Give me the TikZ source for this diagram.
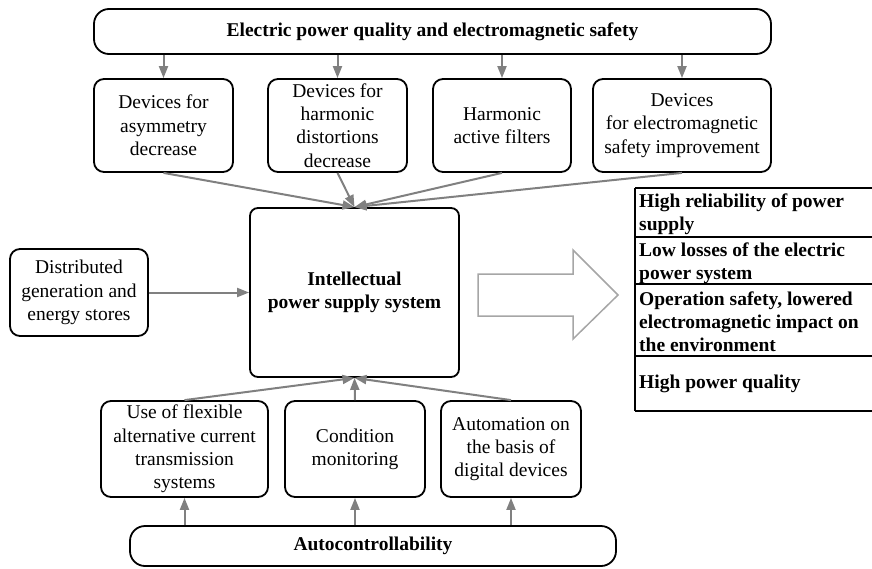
\documentclass[tikz,border=0pt]{standalone}
\usepackage{fontspec}
\setmainfont{Liberation Serif}
\usetikzlibrary{arrows.meta}
\begin{document}
\begin{tikzpicture}[x=1pt,y=-1pt,
  every node/.style={font=\fontsize{19.5}{23.3}\selectfont},
  box/.style={draw=black,line width=1.8pt,rounded corners=10pt,align=center,inner sep=0pt},
  bigbox/.style={box,rounded corners=15pt},
  arr/.style={draw=gray,line width=2pt,-{Triangle[length=12pt,width=9pt]}},
  rowtext/.style={anchor=west,align=left,inner sep=0pt,font=\fontsize{19.5}{23}\selectfont\bfseries},
  panel/.style={line width=1.8pt,draw=black}]
\useasboundingbox (0,0) rectangle (872,568);
% top and bottom
\node[bigbox,minimum width=677pt,minimum height=45pt] (top) at (432.5,31.5) {\textbf{Electric power quality and electromagnetic safety}};
\node[bigbox,minimum width=486pt,minimum height=40pt] (bot) at (373,546) {\textbf{Autocontrollability}};
% second row
\node[box,minimum width=139pt,minimum height=93pt] (b1) at (163.5,125.5) {Devices for\\asymmetry\\decrease};
\node[box,minimum width=139pt,minimum height=93pt] (b2) at (337.5,125.5) {Devices for\\harmonic\\distortions\\decrease};
\node[box,minimum width=138pt,minimum height=93pt] (b3) at (502,125.5) {Harmonic\\active filters};
\node[box,minimum width=178pt,minimum height=93pt] (b4) at (682,125.5) {Devices\\for electromagnetic\\safety improvement};
% centre
\node[box,rounded corners=8pt,minimum width=209pt,minimum height=169pt] (cen) at (354.5,292.5) {\textbf{Intellectual}\\\textbf{power supply system}};
\node[box,minimum width=138pt,minimum height=87pt] (dist) at (79,292.5) {Distributed\\generation and\\energy stores};
% lower row
\node[box,minimum width=167pt,minimum height=96pt] (u1) at (184.5,449) {Use of flexible\\alternative current\\transmission\\systems};
\node[box,minimum width=140pt,minimum height=96pt] (u2) at (355,449) {Condition\\monitoring};
\node[box,minimum width=140pt,minimum height=96pt] (u3) at (511,449) {Automation on\\the basis of\\digital devices};
% arrows top
\foreach \b in {b1,b2,b3,b4} {
  \draw[arr] (top.south -| \b.north) -- (\b.north);
  \draw[arr] (\b.south) -- (cen.north);
}
\draw[arr] (dist.east) -- (cen.west);
\foreach \b in {u1,u2,u3} {
  \draw[arr] (bot.north -| \b.south) -- (\b.south);
  \draw[arr] (\b.north) -- (cen.south);
}
% big arrow
\draw[draw=gray!70,line width=1.5pt,fill=white,line join=miter]
  (478,274) -- (573,274) -- (573,250) -- (618,295) -- (573,339) -- (573,316) -- (478,316) -- cycle;
% right panel
\draw[panel] (635,188) -- (635,411);
\foreach \yy in {188,237,284,356,411} \draw[panel] (635,\yy) -- (872,\yy);
\node[rowtext] (r1) at (639,214) {High reliability of power\\supply};
\node[rowtext] (r2) at (639,263.5) {Low losses of the electric\\power system};
\node[rowtext] (r3) at (639,321.5) {Operation safety, lowered\\electromagnetic impact on\\the environment};
\node[rowtext] (r4) at (639,384) {High power quality};
\end{tikzpicture}
\end{document}
